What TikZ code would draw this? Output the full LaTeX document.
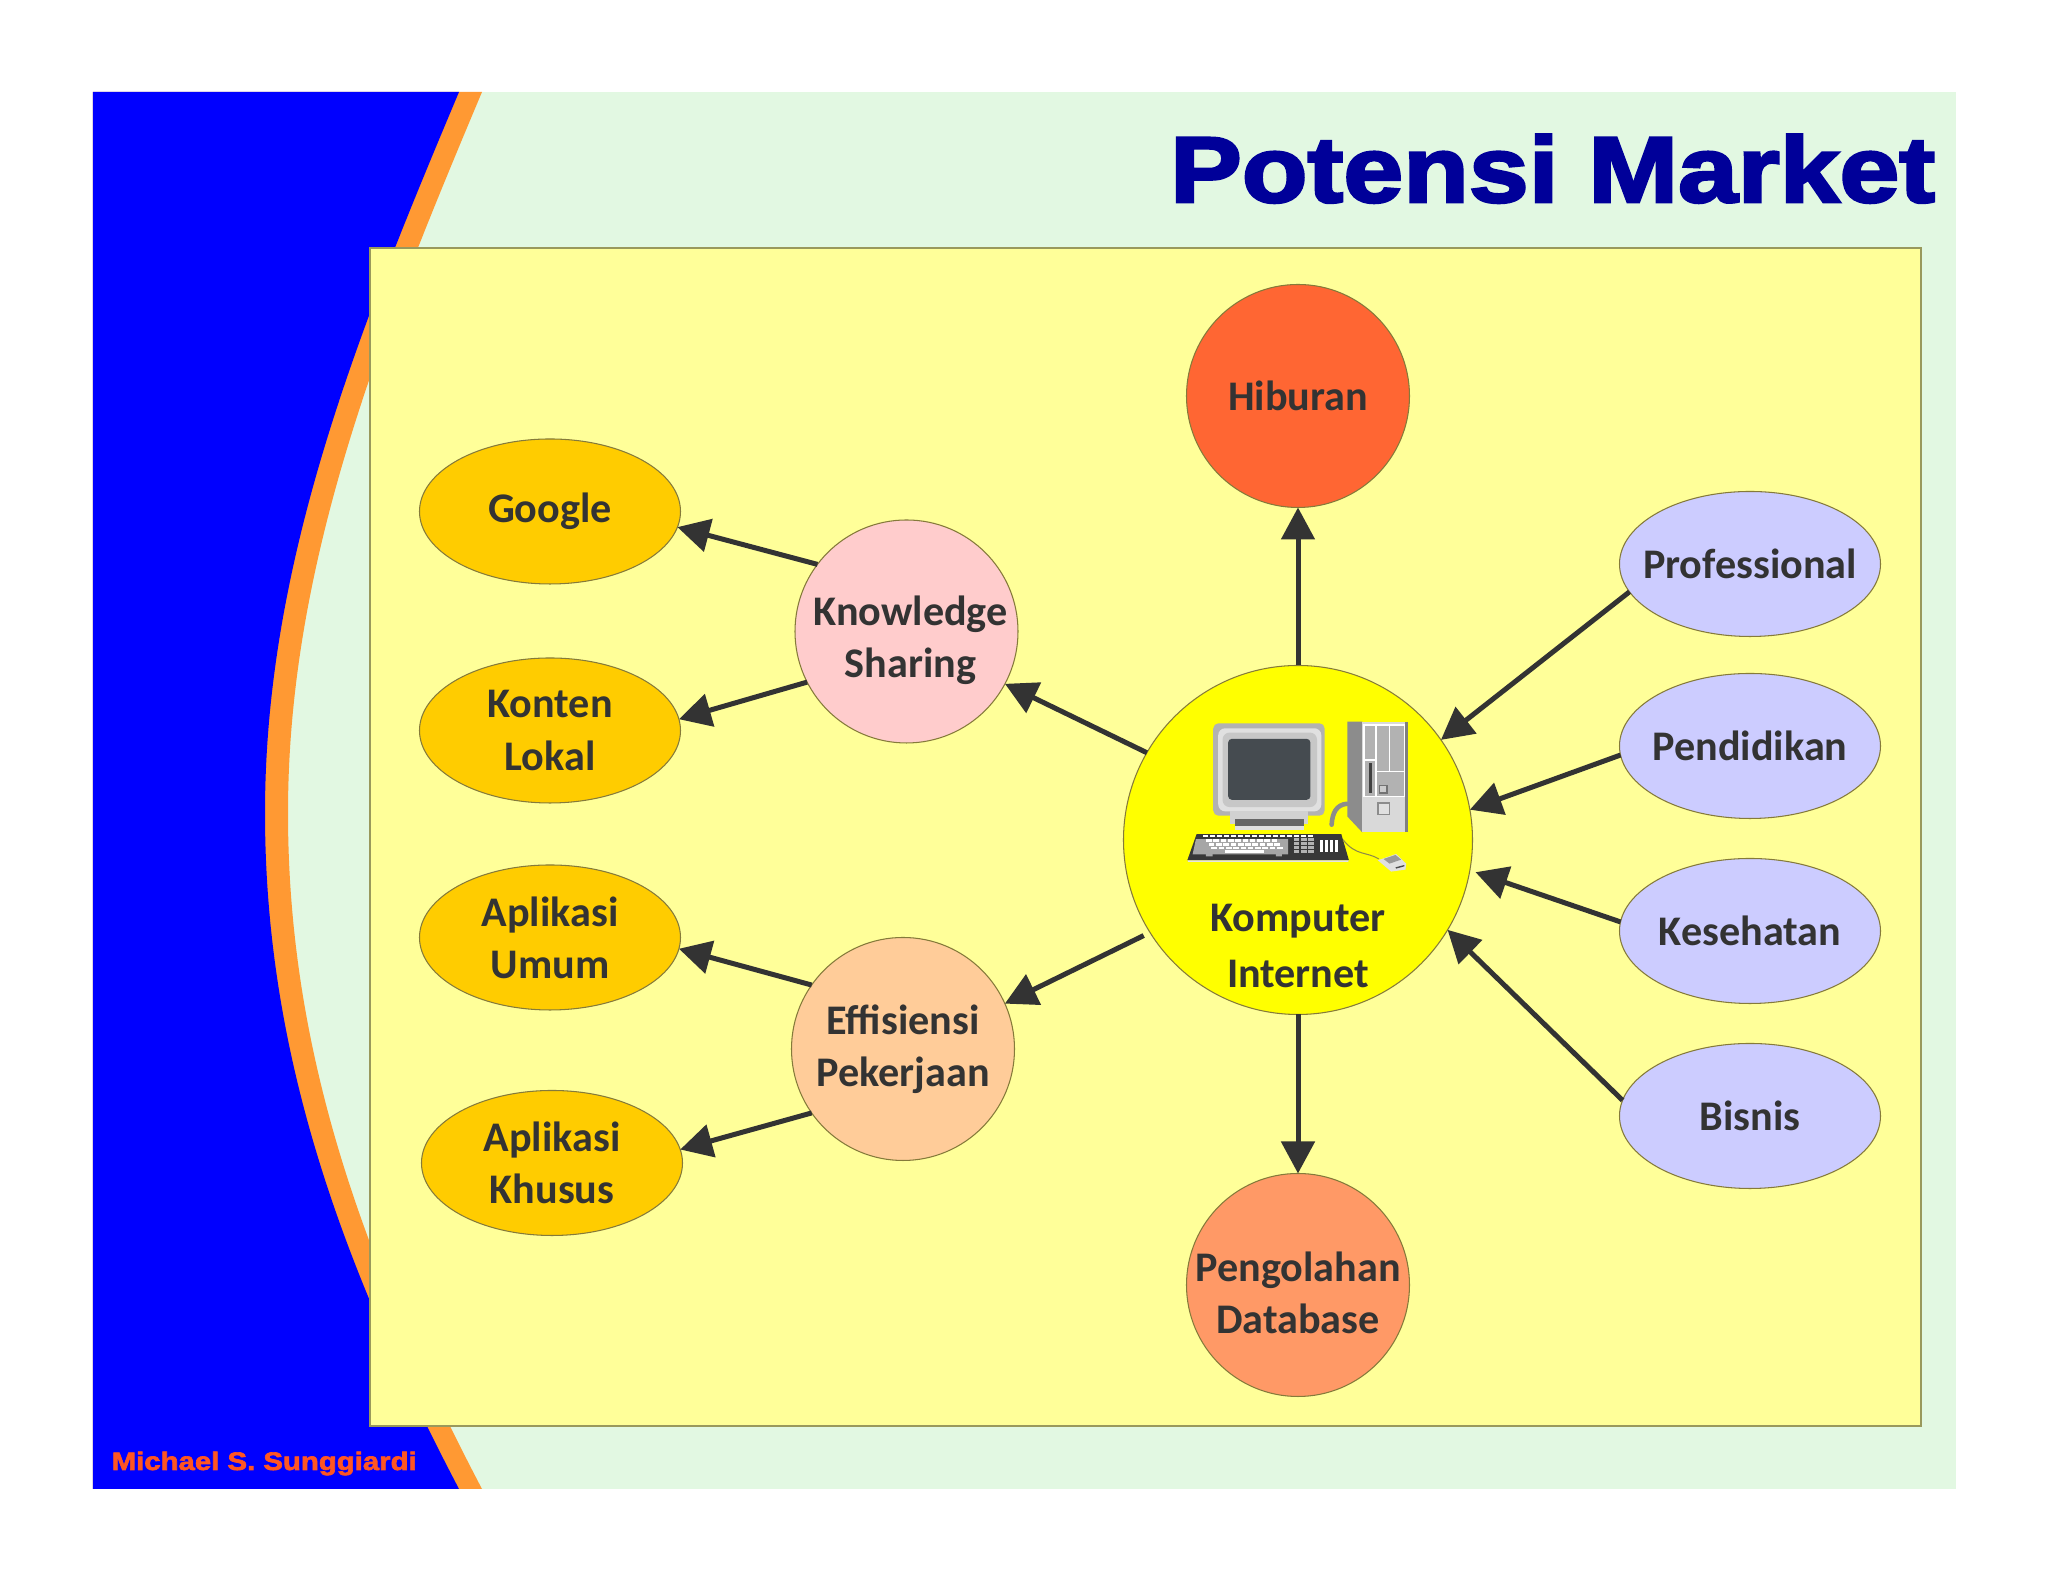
\documentclass[tikz,border=0pt]{standalone}
\usepackage{fontspec}
\usepackage{xcolor}
\usepackage{tikz}
\usetikzlibrary{arrows.meta,shapes.geometric}
\setmainfont{Carlito}[BoldFont=Carlito Bold]
\newfontfamily\heavyfont[FakeBold=3,FakeStretch=1.155]{Liberation Sans Bold}
\newfontfamily\footfont[FakeBold=2.5,FakeStretch=1.16]{Liberation Sans Bold}
\definecolor{slidebg}{HTML}{E2F8E2}
\definecolor{slideblue}{HTML}{0000FF}
\definecolor{stripe}{HTML}{FF9933}
\definecolor{panel}{HTML}{FFFF99}
\definecolor{gold}{HTML}{FFCC00}
\definecolor{sunny}{HTML}{FFFF00}
\definecolor{lilac}{HTML}{CCCCFF}
\definecolor{rosy}{HTML}{FFCCCC}
\definecolor{peach}{HTML}{FFCC99}
\definecolor{tomato}{HTML}{FF6633}
\definecolor{salmon}{HTML}{FF9966}
\definecolor{inkdark}{HTML}{333333}
\definecolor{navytitle}{HTML}{000099}
\definecolor{footred}{HTML}{FF5522}
\definecolor{edgeline}{HTML}{857A3A}
\definecolor{screen}{HTML}{454B50}
\tikzset{
    label text/.style={text=inkdark, font=\fontsize{12}{14.8}\selectfont\bfseries, align=center},
    bubble/.style={circle, draw=edgeline, line width=0.3pt, fill=#1, minimum size=2.23cm, inner sep=0pt, outer sep=0pt, label text},
    oval/.style={ellipse, draw=edgeline, line width=0.3pt, fill=#1, minimum width=2.61cm, minimum height=1.45cm, inner sep=-0.4cm, outer sep=0pt, label text},
    link/.style={-{Triangle[length=0.32cm,width=0.33cm]}, draw=inkdark, line width=0.05cm},
    case/.style={fill=#1, draw=none}
}
\begin{document}
\begin{tikzpicture}
    \useasboundingbox (0,0) rectangle (20.48,15.82);
    % slide background
    \fill[slidebg] (0.93,0.93) rectangle (19.56,14.90);
    \fill[stripe,xshift=0.23cm] (0.70,0.93) -- (4.59,0.93) .. controls (3.40,3.20) and (2.65,5.30) .. (2.65,7.69) .. controls (2.65,10.20) and (3.58,12.50) .. (4.59,14.90) -- (0.70,14.90) -- cycle;
    \fill[slideblue] (0.93,0.93) -- (4.59,0.93) .. controls (3.40,3.20) and (2.65,5.30) .. (2.65,7.69) .. controls (2.65,10.20) and (3.58,12.50) .. (4.59,14.90) -- (0.93,14.90) -- cycle;
    \node[anchor=base east, inner sep=0pt, text=navytitle, font=\fontsize{26.5}{30}\selectfont\heavyfont] (title) at (19.36,13.80) {Potensi Market};
    \node[anchor=base west, inner sep=0pt, text=footred, font=\fontsize{7.2}{9}\selectfont\footfont] (author) at (1.11,1.12) {Michael S. Sunggiardi};
    \draw[fill=panel, draw=black!40!panel, line width=0.6pt] (3.70,1.56) rectangle (19.21,13.34);

    % nodes
    \node[bubble=sunny, minimum size=3.49cm] (comp) at (12.98,7.42) {};
    \node[label text] (compText) at (12.98,6.36) {Komputer\\[1.1pt]Internet};
    \node[bubble=tomato] (hib) at (12.98,11.86) {Hiburan};
    \node[bubble=salmon] (peng) at (12.98,2.97) {};
    \node[label text, yshift=-0.08cm] (pengText) at (peng) {Pengolahan\\Database};
    \node[bubble=rosy] (know) at (9.065,9.505) {};
    \node[label text, xshift=0.04cm, yshift=-0.09cm] (knowText) at (know) {Knowledge\\Sharing};
    \node[bubble=peach] (eff) at (9.03,5.33) {Effisiensi\\Pekerjaan};
    \node[oval=gold] (goog) at (5.50,10.705) {Google};
    \node[oval=gold] (kont) at (5.50,8.515) {Konten\\Lokal};
    \node[oval=gold] (umum) at (5.50,6.445) {Aplikasi\\Umum};
    \node[oval=gold] (khus) at (5.52,4.19) {Aplikasi\\Khusus};
    \node[oval=lilac] (prof) at (17.50,10.18) {Professional};
    \node[oval=lilac] (pend) at (17.50,8.36) {Pendidikan};
    \node[oval=lilac] (kes) at (17.50,6.51) {Kesehatan};
    \node[oval=lilac] (bis) at (17.50,4.66) {Bisnis};

    % connectors
    \draw[link] (comp.north) -- (hib.south);
    \draw[link] (comp.south) -- (peng.north);
    \draw[link] (comp.150) -- (know.332);
    \draw[link, shorten <=0.07cm] (comp.212) -- (eff.24.5);
    \draw[link] (know.143.7) -- (goog.353);
    \draw[link] (know.207.6) -- (kont.5.5);
    \draw[link] (eff.145) -- (umum.355);
    \draw[link] (eff.215) -- (khus.6);
    \draw[link] (prof.193) -- (comp.35);
    \draw[link] (pend.184) -- (comp.10.4);
    \draw[link, shorten >=0.06cm] (kes.176) -- (comp.350);
    \draw[link] (bis.173) -- (comp.329);

    % computer
    \begin{scope}[shift={(11.70,8.82)}, x=0.003333cm, y=-0.003333cm]
        % monitor
        \fill[case={black!30}, rounded corners=1.5pt] (130,70) rectangle (465,348);
        \fill[case={black!12}, rounded corners=2pt] (145,85) rectangle (455,335);
        \fill[case={black!22}, rounded corners=2pt] (158,98) rectangle (442,322);
        \fill[case=screen, rounded corners=1pt] (175,117) rectangle (422,300);
        \fill[case={black!18}] (180,335) rectangle (415,372);
        \fill[case={black!60}] (195,358) rectangle (402,378);
        \fill[case={black!12}] (195,378) rectangle (402,390);
        % tower
        \fill[case={black!45}] (533,65) -- (578,65) -- (578,398) -- (533,350) -- cycle;
        \fill[case={black!15}] (578,65) rectangle (715,398);
        \fill[case={black!30}] (583,75) rectangle (705,290);
        \draw[white, line width=0.5pt] (583,75) rectangle (705,290) (620,75) -- (620,290) (660,75) -- (660,215) (620,215) -- (705,215) (583,180) -- (620,180);
        \fill[case={black!75}] (598,190) rectangle (606,280);
        \draw[black!55, line width=0.4pt, fill=black!20] (630,257) rectangle (653,280);
        \draw[black!45, line width=0.4pt, fill=black!12] (625,310) rectangle (660,345);
        \fill[case={black!50}] (708,65) rectangle (715,398);
        \draw[black!45, line width=1.3pt, line cap=round] (532,312) .. controls (500,315) and (488,340) .. (486,375);
        % keyboard
        \fill[case={black!78}] (80,403) -- (515,403) -- (538,482) -- (52,482) -- cycle;
        \fill[case={black!10}] (52,482) -- (538,482) -- (535,487) -- (55,487) -- cycle;
        \fill[case={black!35}] (78,418) -- (355,418) -- (355,464) -- (68,464) -- cycle;
        \foreach \row/\off in {0/108,1/116,2/124} {
            \foreach \col in {0,...,9} {
                \fill[white] ({\off+\col*22},{419+\row*11}) rectangle +(17,8);
            }
        }
        \fill[white] (165,452) rectangle (282,460);
        \foreach \col in {0,...,15} {
            \fill[white] ({100+\col*21},405) rectangle +(15,6);
        }
        \foreach \col in {0,1,2} {
            \foreach \row in {0,...,3} {
                \fill[black!30] ({372+\col*22},{416+\row*12}) rectangle +(17,8);
            }
        }
        \foreach \col in {0,1,2,3} {
            \fill[white] ({450+\col*15},422) rectangle +(10,36);
        }
        \fill[black!35] (108,462) rectangle (128,470) (318,462) rectangle (336,470);
        \draw[black!50!yellow, line width=0.3pt] (520,420) .. controls (560,470) and (590,455) .. (628,478);
        % mouse
        \fill[case={black!12}] (625,482) -- (680,463) -- (710,492) -- (708,510) -- (665,516) -- cycle;
        \fill[case={black!40}] (642,478) -- (678,466) -- (695,480) -- (660,492) -- cycle;
        \fill[case={black!70}] (678,503) -- (705,496) -- (705,500) -- (680,507) -- cycle;
    \end{scope}
\end{tikzpicture}
\end{document}
